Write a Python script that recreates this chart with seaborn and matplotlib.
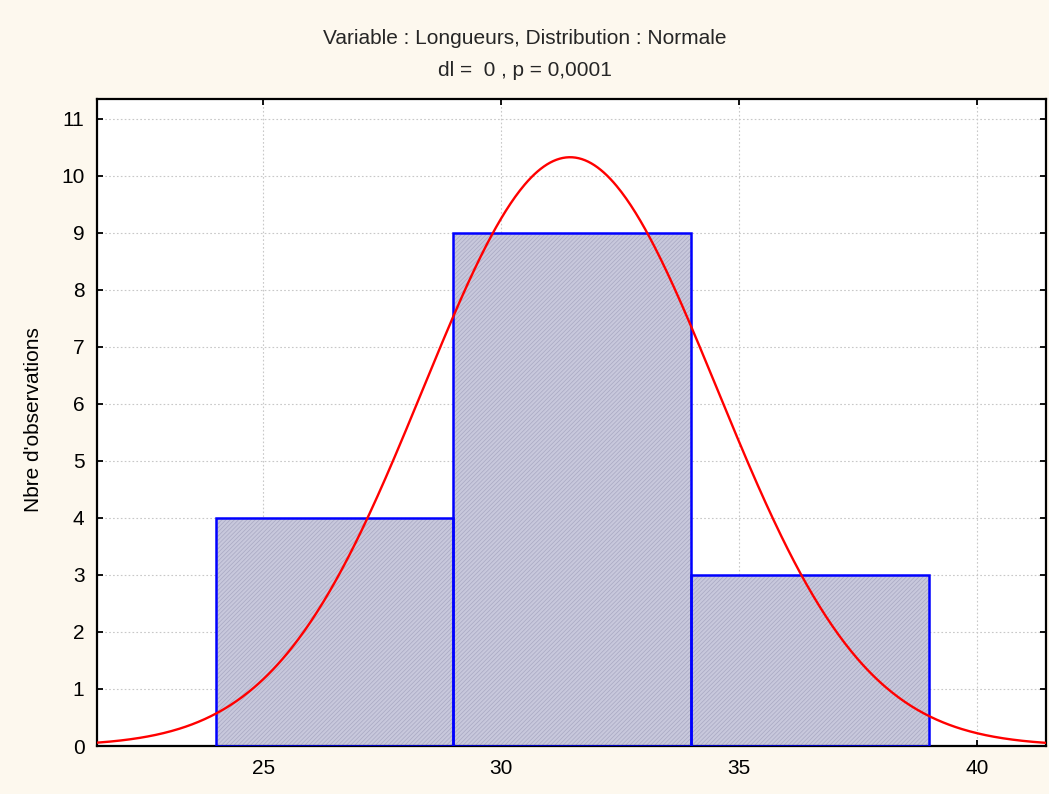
import numpy as np
import pandas as pd
import matplotlib
matplotlib.use("Agg")
import matplotlib.pyplot as plt
import seaborn as sns

# Histogram classes and observed counts
bin_edges = [24, 29, 34, 39]
bin_centers = [26.5, 31.5, 36.5]
counts = [4, 9, 3]

# Fitted normal distribution
fit_mean = 31.45
fit_sd = 3.09

x_ticks = [25, 30, 35, 40]
y_ticks = list(range(0, 12))

title_lines = ["Variable : Longueurs, Distribution : Normale",
               "dl =  0 , p = 0,0001"]
y_label = "Nbre d'observations"

sns.set_style("white")
plt.rcParams["font.family"] = ["Liberation Sans", "DejaVu Sans"]
plt.rcParams["hatch.linewidth"] = 0.5

bg = "#fdf8ee"
fs = 15
fig = plt.figure(figsize=(10.49, 7.94), dpi=100, facecolor=bg)
ax = fig.add_axes([97 / 1049, 1 - 746 / 794, (1046 - 97) / 1049, (746 - 99) / 794])
ax.set_facecolor("white")

df = pd.DataFrame({"x": bin_centers, "n": counts})

# hatched fill
sns.histplot(data=df, x="x", weights="n", bins=bin_edges, ax=ax,
             stat="count", element="bars", fill=True,
             facecolor="#c8c8dc", edgecolor="#a8a8c2", hatch="////////",
             linewidth=0, alpha=1, zorder=2)
# blue outlines
sns.histplot(data=df, x="x", weights="n", bins=bin_edges, ax=ax,
             stat="count", element="bars", fill=False, color="#0000ff",
             edgecolor="#0000ff", linewidth=1.8, zorder=3)

xlim = (21.51, 41.45)
bin_width = bin_edges[1] - bin_edges[0]
xs = np.linspace(xlim[0], xlim[1], 600)
scale = sum(counts) * bin_width
ys = scale * np.exp(-0.5 * ((xs - fit_mean) / fit_sd) ** 2) / (fit_sd * np.sqrt(2 * np.pi))
sns.lineplot(x=xs, y=ys, ax=ax, color="#ff0000", linewidth=1.7, zorder=4)

ax.set_xlim(*xlim)
ax.set_ylim(0, 11.35)
ax.set_xticks(x_ticks)
ax.set_yticks(y_ticks)
ax.grid(True, color="#c8c8c8", linestyle=(0, (1.5, 2)), linewidth=0.8, zorder=0)
ax.set_axisbelow(True)
ax.tick_params(direction="in", length=4, width=1.3, colors="black",
               labelsize=fs, pad=9, left=True, bottom=True, right=True, top=True,
               labelright=False, labeltop=False)
for s in ax.spines.values():
    s.set_color("black")
    s.set_linewidth(1.6)
    s.set_visible(True)

ax.set_xlabel("")
ax.set_ylabel(y_label, fontsize=fs, color="black")
ax.yaxis.set_label_coords(-0.057, 0.505)

fig.text(0.5, 1 - 38 / 794, title_lines[0], ha="center", va="center", fontsize=fs)
fig.text(0.5, 1 - 70 / 794, title_lines[1], ha="center", va="center", fontsize=fs)

fig.savefig("out.png", dpi=100, facecolor=bg)
